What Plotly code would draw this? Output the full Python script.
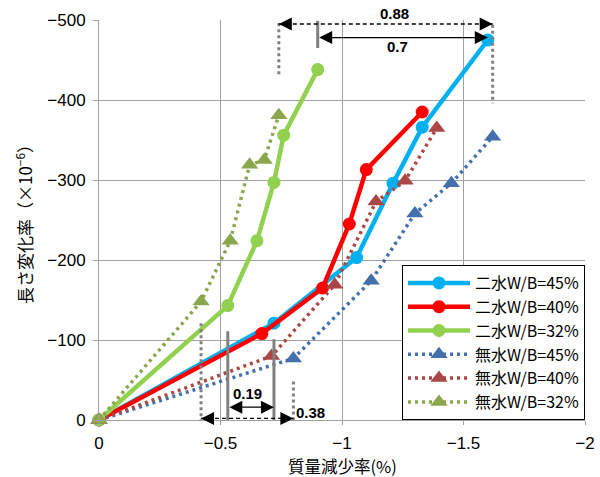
import plotly.graph_objects as go

# 質量減少率 (%) と 長さ変化率 (×10^-6)
dd45_x = [0, -0.72, -1.06, -1.21, -1.33, -1.60]
dd45_y = [0, -121, -203, -296, -366, -475]
dd40_x = [0, -0.67, -0.92, -1.03, -1.10, -1.33]
dd40_y = [0, -108, -165, -245, -313, -385]
dd32_x = [0, -0.53, -0.65, -0.72, -0.76, -0.90]
dd32_y = [0, -143, -224, -297, -356, -438]
mu45_x = [0, -0.80, -1.12, -1.30, -1.45, -1.62]
mu45_y = [0, -77, -174, -258, -296, -354]
mu40_x = [0, -0.71, -0.97, -1.14, -1.26, -1.39]
mu40_y = [0, -80, -169, -273, -299, -365]
mu32_x = [0, -0.42, -0.54, -0.62, -0.68, -0.74]
mu32_y = [0, -148, -224, -319, -325, -381]

names = ["二水W/B=45%", "二水W/B=40%", "二水W/B=32%",
         "無水W/B=45%", "無水W/B=40%", "無水W/B=32%"]

x_ticks = [0, -0.5, -1, -1.5, -2]
y_ticks = [0, -100, -200, -300, -400, -500]

# differences marked on the chart
gap_top_dash = "0.88"
gap_top_solid = "0.7"
gap_bot_solid = "0.19"
gap_bot_dash = "0.38"

series = [
    (dd45_x, dd45_y, names[0], "#00B0F0", "solid", "circle"),
    (dd40_x, dd40_y, names[1], "#FF0000", "solid", "circle"),
    (dd32_x, dd32_y, names[2], "#92D050", "solid", "circle"),
    (mu45_x, mu45_y, names[3], "#4470AC", "dot", "triangle-up"),
    (mu40_x, mu40_y, names[4], "#AB4745", "dot", "triangle-up"),
    (mu32_x, mu32_y, names[5], "#8BA64C", "dot", "triangle-up"),
]

fig = go.Figure()
for xs, ys, nm, col, style, sym in series:
    if style == "solid":
        line = dict(color=col, width=4.5)
        marker = dict(symbol=sym, size=13, color=col)
    else:
        line = dict(color=col, width=3.5, dash="3px,4px")
        marker = dict(symbol=sym, size=15, color=col)
    fig.add_trace(go.Scatter(x=xs, y=ys, name=nm, mode="lines+markers",
                             line=line, marker=marker, cliponaxis=False))

GRAY = "#808080"
shapes = []
annotations = []
HEAD = dict(arrowhead=2, arrowsize=2, arrowwidth=1.3, arrowcolor="black")


def vline(x, y0, y1, dotted):
    shapes.append(dict(type="line", xref="x", yref="y", x0=x, x1=x, y0=y0, y1=y1,
                       line=dict(color=GRAY, width=3, dash="dot" if dotted else "solid")))


def double_arrow(x0, x1, y, dashed):
    if dashed:
        shapes.append(dict(type="line", xref="x", yref="y", x0=x0, x1=x1, y0=y, y1=y,
                           line=dict(color="black", width=1.3, dash="4px,3px")))
        for xe, off in ((x0, 14), (x1, -14)):
            annotations.append(dict(x=xe, y=y, xref="x", yref="y", axref="pixel",
                                    ayref="pixel", ax=off, ay=0, text="", showarrow=True,
                                    **HEAD))
    else:
        annotations.append(dict(x=x1, y=y, ax=x0, ay=y, xref="x", yref="y", axref="x",
                                ayref="y", text="", showarrow=True, arrowside="end+start",
                                startarrowhead=2, startarrowsize=2, **HEAD))


def label(x, y, txt, yref="y"):
    annotations.append(dict(x=x, y=y, xref="x", yref=yref, text="<b>%s</b>" % txt,
                            showarrow=False, xanchor="center", yanchor="middle",
                            font=dict(family="Liberation Sans", size=15, color="black")))


# upper markers: 32% maxima against 45% maximum
vline(mu32_x[-1], -496, -431, True)
vline(dd32_x[-1], -499, -465, False)
vline(mu45_x[-1], -494, -396, True)
double_arrow(mu32_x[-1], mu45_x[-1], -495, True)
double_arrow(dd32_x[-1], dd45_x[-1], -478, False)
label(-1.216, 1.017, gap_top_dash, yref="paper")
label(-1.23, -467, gap_top_solid)

# lower markers near the first measurement
vline(mu32_x[1], -121, 0, True)
vline(dd32_x[1], -111, 3, False)
vline(dd45_x[1], -101, 3, False)
vline(mu45_x[1], -48, 0, True)
double_arrow(dd32_x[1], dd45_x[1], -16, False)
double_arrow(mu32_x[1], mu45_x[1], -2, True)
label(-0.612, -33, gap_bot_solid)
label(-0.87, -10, gap_bot_dash)

# x-axis title placed below the tick labels
annotations.append(dict(x=0.5, y=-0.115, xref="paper", yref="paper", text="質量減少率(%)",
                        showarrow=False, xanchor="center", yanchor="middle",
                        font=dict(family="Noto Sans CJK JP", size=16.5, color="black")))

AX_GRAY = "#A0A0A0"
fig.update_layout(
    width=600, height=477,
    margin=dict(l=99, r=15, t=20, b=57),
    paper_bgcolor="white", plot_bgcolor="white",
    shapes=shapes, annotations=annotations,
    legend=dict(x=1, xanchor="right", y=0, yanchor="bottom",
                bgcolor="white", bordercolor="black", borderwidth=1,
                font=dict(family="Noto Sans CJK JP", size=16, color="black"),
                itemwidth=62, tracegroupgap=0),
    xaxis=dict(range=[0, -2], tickvals=x_ticks, showgrid=True, gridcolor=AX_GRAY,
               gridwidth=1, zeroline=False, showline=True, linecolor=AX_GRAY,
               ticks="outside", ticklen=4, tickcolor=AX_GRAY, ticklabelstandoff=4,
               automargin=False,
               tickfont=dict(family="Liberation Sans", size=17, color="black")),
    yaxis=dict(range=[0, -500], tickvals=y_ticks, showgrid=True, gridcolor=AX_GRAY,
               gridwidth=1, zeroline=False, showline=True, linecolor=AX_GRAY,
               ticks="outside", ticklen=5, tickcolor=AX_GRAY, automargin=False,
               ticklabelstandoff=4,
               tickfont=dict(family="Liberation Sans", size=17, color="black"),
               title=dict(text="長さ変化率（×10<sup>−6</sup>）", standoff=10,
                          font=dict(family="Noto Sans CJK JP", size=17, color="black"))),
)

fig.write_html("out.html")
